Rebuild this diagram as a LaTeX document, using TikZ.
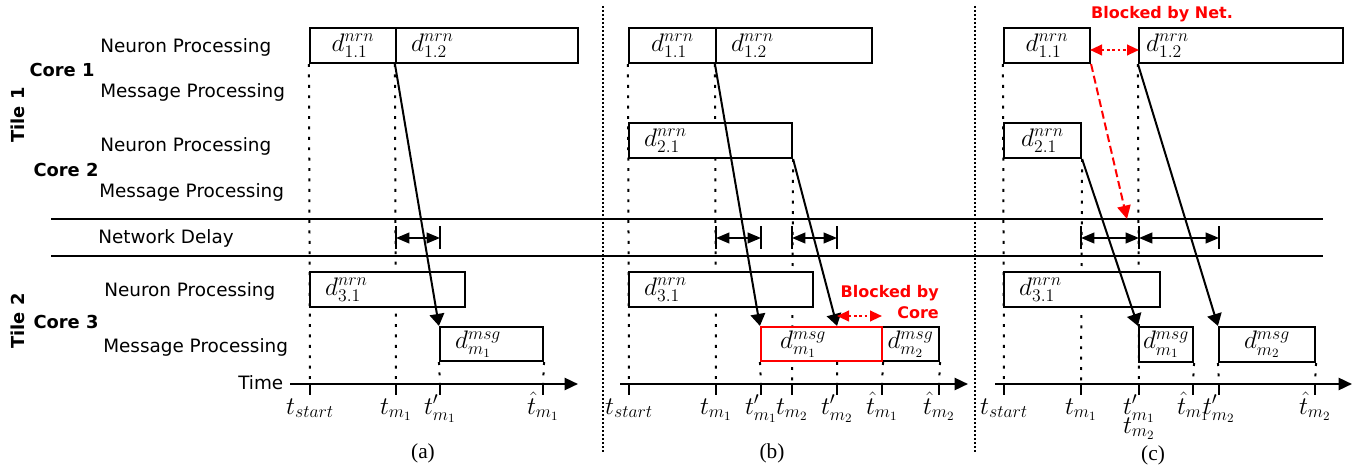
\RequirePackage{fix-cm}
\documentclass[tikz,border=0pt]{standalone}
\usepackage{fontspec}
\setsansfont{DejaVu Sans}
\newfontfamily\capfont{Liberation Serif}
\usetikzlibrary{positioning,arrows.meta,fit,backgrounds}
\begin{document}
\begin{tikzpicture}[x=0.75pt,y=-0.75pt,
  lab/.style={font=\sffamily\fontsize{13.8}{16}\selectfont,anchor=west,inner sep=0pt},
  core/.style={font=\sffamily\bfseries\fontsize{13.4}{16}\selectfont,inner sep=0pt},
  note/.style={text=red,font=\sffamily\bfseries\fontsize{12}{15.75}\selectfont,inner sep=0pt},
  blk/.style={draw,line width=1.6pt,fill=white,inner sep=0pt},
  dlab/.style={font=\fontsize{19}{22}\selectfont,inner sep=0pt},
  tlab/.style={font=\fontsize{19}{22}\selectfont,inner sep=0pt,anchor=base},
  panelcap/.style={font=\capfont\fontsize{16}{18}\selectfont,inner sep=0pt},
  guide/.style={line width=1.5pt,dash pattern=on 2.2pt off 5.6pt},
  panelsep/.style={line width=1.5pt,dash pattern=on 1.5pt off 1.5pt},
  tk/.style={line width=1.6pt},
  timeax/.style={line width=1.8pt,-{Triangle[length=10pt,width=9pt]}},
  msg/.style={line width=1.5pt,-{Triangle[length=9pt,width=11pt]}},
  dly/.style={line width=1.5pt,{Triangle[length=10pt,width=8pt]}-{Triangle[length=10pt,width=8pt]}},
  blkd/.style={red,line width=1.5pt,dash pattern=on 2pt off 2pt,{Triangle[length=9pt,width=8pt]}-{Triangle[length=9pt,width=8pt]}}]
\useasboundingbox (0,0) rectangle (1364,470);

% row labels
\node[lab] (np1) at (100,47) {Neuron Processing};
\node[lab] (mp1) at (100,92) {Message Processing};
\node[core] (c1) at (62,70) {Core 1};
\node[lab] (np2) at (100,146) {Neuron Processing};
\node[lab] (mp2) at (99,192) {Message Processing};
\node[core] (c2) at (66,170) {Core 2};
\node[core,rotate=90] (t1) at (18,115) {Tile 1};
\node[lab] (nd) at (98,238) {Network Delay};
\node[lab] (np3) at (104,291) {Neuron Processing};
\node[lab] (mp3) at (103,347) {Message Processing};
\node[core] (c3) at (66,322) {Core 3};
\node[core,rotate=90] (t2) at (18,321) {Tile 2};
\node[lab] (tm) at (238,383) {Time};

% network band and panel separators
\coordinate (nl1) at (51,219); \coordinate (nr1) at (1323,219);
\coordinate (nl2) at (51,256); \coordinate (nr2) at (1323,256);
\draw[line width=1.3pt] (nl1) -- (nr1) (nl2) -- (nr2);
\draw[panelsep] (603,6) -- (603,452) (975,6) -- (975,452);

% ---------------- (a)
\foreach \x/\t [count=\i] in {310/t_{start},396/t_{m_1},440/t'_{m_1},543/\hat{t}_{m_1}}{
  \coordinate (a\i) at (\x,384);
  \draw[tk] (a\i) -- ++(0,11);
  \node[tlab] (la\i) at (\x,414) {$\t$};}
\draw[timeax] (290,384) -- (578,384);
\node[blk,fit={(310,28)(396,63)}] (a11) {};
\node[blk,fit={(396,28)(578,63)}] (a12) {};
\node[blk,fit={(310,272)(465,307)}] (a31) {};
\node[blk,fit={(440,327)(543,361)}] (am1) {};
\node[dlab] at (a11) {$d^{nrn}_{1.1}$};
\node[dlab,right=12pt of a12.west] {$d^{nrn}_{1.2}$};
\node[dlab,right=12pt of a31.west] {$d^{nrn}_{3.1}$};
\node[dlab,right=12pt of am1.west] {$d^{msg}_{m_1}$};
\begin{pgfonlayer}{background}
  \draw[guide] (a11.south west) -- (a1) (a12.south west) -- (a2)
    (am1.south west) -- (a3) (am1.south east) -- (a4);
\end{pgfonlayer}
\draw[msg] (a12.south west) -- (am1.north west);
\draw[dly] (a2|-nd) -- (a3|-nd);
\foreach \i in {2,3} \draw[tk] (a\i|-nd) ++(0,-11.5) -- ++(0,23);
\node[panelcap] (capa) at (423,453) {(a)};

% ---------------- (b)
\foreach \x/\t [count=\i] in {629/t_{start},716/t_{m_1},761/t'_{m_1},792/t_{m_2},837/t'_{m_2},882/\hat{t}_{m_1},939/\hat{t}_{m_2}}{
  \coordinate (b\i) at (\x,384);
  \draw[tk] (b\i) -- ++(0,11);
  \node[tlab] (lb\i) at (\x,414) {$\t$};}
\draw[timeax] (620,384) -- (968,384);
\node[blk,fit={(629,28)(716,63)}] (b11) {};
\node[blk,fit={(716,28)(872,63)}] (b12) {};
\node[blk,fit={(629,123)(792,158)}] (b21) {};
\node[blk,fit={(629,272)(813,307)}] (b31) {};
\node[blk,fit={(882,327)(939,361)}] (bm2) {};
\node[blk,draw=red,fit={(761,327)(882,361)}] (bm1) {};
\node[dlab] at (b11) {$d^{nrn}_{1.1}$};
\node[dlab,right=12pt of b12.west] {$d^{nrn}_{1.2}$};
\node[dlab,right=12pt of b21.west] {$d^{nrn}_{2.1}$};
\node[dlab,right=12pt of b31.west] {$d^{nrn}_{3.1}$};
\node[dlab,right=15pt of bm1.west] {$d^{msg}_{m_1}$};
\node[dlab] at (bm2) {$d^{msg}_{m_2}$};
\begin{pgfonlayer}{background}
  \draw[guide] (b11.south west) -- (b1) (b12.south west) -- (b2)
    (b21.south east) -- (b4) (bm1.south west) -- (b3)
    (bm1.south west -| b5) -- (b5) (bm1.south east) -- (b6) (bm2.south east) -- (b7);
\end{pgfonlayer}
\coordinate (bt2) at (bm1.north west -| b5);
\draw[msg] (b12.south west) -- (bm1.north west);
\draw[msg] (b21.south east) -- (bt2);
\draw[dly] (b2|-nd) -- (b3|-nd);
\draw[dly] (b4|-nd) -- (b5|-nd);
\foreach \i in {2,3,4,5} \draw[tk] (b\i|-nd) ++(0,-11.5) -- ++(0,23);
\coordinate (bk1) at (837,316); \coordinate (bk2) at (882,316);
\draw[blkd] (bk1) -- (bk2);
\node[note,align=right,anchor=east] (bc) at (939,302.5) {Blocked by\\Core};
\node[panelcap] (capb) at (772,453) {(b)};

% ---------------- (c)
\foreach \x/\t [count=\i] in {1004/t_{start},1081/t_{m_1},1139/t'_{m_1},1193/\hat{t}_{m_1},1219/t'_{m_2},1315/\hat{t}_{m_2}}{
  \coordinate (c\i) at (\x,384);
  \draw[tk] (c\i) -- ++(0,11);
  \node[tlab] (lc\i) at (\x,414) {$\t$};}
\node[tlab] (lc7) at (1139,433) {$t_{m_2}$};
\draw[timeax] (995,384) -- (1352,384);
\node[blk,fit={(1004,28)(1090,63)}] (c11) {};
\node[blk,fit={(1139,28)(1343,63)}] (c12) {};
\node[blk,fit={(1004,123)(1081,158)}] (c21) {};
\node[blk,fit={(1004,272)(1160,307)}] (c31) {};
\node[blk,fit={(1139,327)(1193,362)}] (cm1) {};
\node[blk,fit={(1219,327)(1315,362)}] (cm2) {};
\node[dlab] at (c11) {$d^{nrn}_{1.1}$};
\node[dlab,right=6pt of c12.west] {$d^{nrn}_{1.2}$};
\node[dlab] at (c21) {$d^{nrn}_{2.1}$};
\node[dlab,right=12pt of c31.west] {$d^{nrn}_{3.1}$};
\node[dlab] at (cm1) {$d^{msg}_{m_1}$};
\node[dlab] at (cm2) {$d^{msg}_{m_2}$};
\begin{pgfonlayer}{background}
  \draw[guide] (c11.south west) -- (c1) (c21.south east) -- (c2) (c12.south west) -- (c3)
    (cm1.south east) -- (c4) (cm2.south west) -- (c5) (cm2.south east) -- (c6);
\end{pgfonlayer}
\draw[msg] (c21.south east) -- (cm1.north west);
\draw[msg] (c12.south west) -- (cm2.north west);
\coordinate (cn) at (1127,219);
\draw[red,line width=1.5pt,dash pattern=on 6pt off 3pt,-{Triangle[length=10pt,width=10pt]}] (c11.south east) -- (cn);
\draw[dly] (c2|-nd) -- (c3|-nd);
\draw[dly] (c3|-nd) -- (c5|-nd);
\foreach \i in {2,3,5} \draw[tk] (c\i|-nd) ++(0,-11.5) -- ++(0,23);
\coordinate (bn1) at (1090,50); \coordinate (bn2) at (1139,50);
\draw[blkd] (bn1) -- (bn2);
\node[note] (bnet) at (1162,14) {Blocked by Net.};
\node[panelcap] (capc) at (1153,455) {(c)};
\end{tikzpicture}
\end{document}
